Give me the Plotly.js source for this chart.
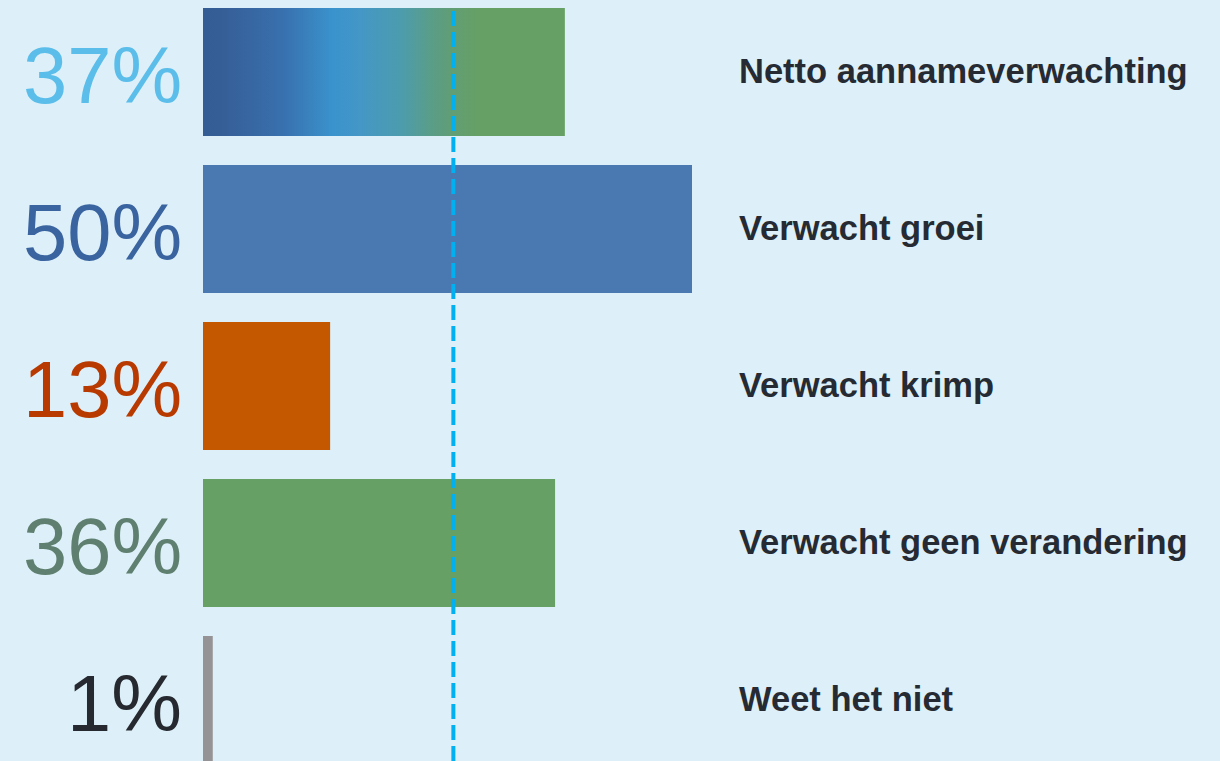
<!DOCTYPE html>
<html>
<head>
<meta charset="utf-8">
<script src="https://cdn.plot.ly/plotly-3.0.1.min.js"></script>
<style>
html,body{margin:0;padding:0;background:#ddf0f9;overflow:hidden;}
#chart{width:1220px;height:761px;}
</style>
</head>
<body>
<div id="chart"></div>
<script>
// Data
const categories = ["Netto aannameverwachting", "Verwacht groei", "Verwacht krimp", "Verwacht geen verandering", "Weet het niet"];
const values = [37, 50, 13, 36, 1];
const valueLabels = ["37%", "50%", "13%", "36%", "1%"];
const referenceLine = 25.6;

// Styles
const barColors = ["#3a8fc8", "#4a78b0", "#c45800", "#67a064", "#969396"];
const labelColors = ["#5bbde9", "#3a64a0", "#b83a00", "#5f8070", "#26292f"];
const FONT = "Liberation Sans, Arial, Helvetica, sans-serif";

const trace = {
  type: "bar",
  orientation: "h",
  y: categories,
  x: values,
  width: 0.815,
  marker: {color: barColors, line: {width: 0}},
  hoverinfo: "none"
};

const annotations = [];
categories.forEach((c, i) => {
  annotations.push({
    x: -1.9, y: c, xref: "x", yref: "y",
    text: valueLabels[i], showarrow: false,
    xanchor: "right", yanchor: "middle", yshift: -3,
    font: {family: FONT, size: 79.5, color: labelColors[i]}
  });
  annotations.push({
    x: 54.6, y: c, xref: "x", yref: "y",
    text: "<b>" + c + "</b>", showarrow: false,
    xanchor: "left", yanchor: "middle", yshift: 1,
    font: {family: FONT, size: 34.5, color: "#262b33"}
  });
});

const layout = {
  width: 1220, height: 761,
  margin: {l: 0, r: 0, t: 0, b: 0, pad: 0},
  paper_bgcolor: "#ddf0f9",
  plot_bgcolor: "#ddf0f9",
  showlegend: false,
  xaxis: {range: [-20.757, 103.988], visible: false, showgrid: false, zeroline: false, fixedrange: true},
  yaxis: {type: "category", categoryorder: "array", categoryarray: categories,
          range: [4.3885, -0.4586], visible: false, showgrid: false, zeroline: false, fixedrange: true},
  annotations: annotations,
  shapes: [{
    type: "line", xref: "x", yref: "paper",
    x0: referenceLine, x1: referenceLine, y0: 0, y1: 0.991,
    line: {color: "#00b0f0", width: 4, dash: "15px,6px"},
    layer: "above"
  }]
};

Plotly.newPlot("chart", [trace], layout, {staticPlot: true, displayModeBar: false}).then(gd => {
  const svg = gd.querySelector("svg.main-svg");
  let defs = svg.querySelector("defs");
  const ns = "http://www.w3.org/2000/svg";
  if (!defs) { defs = document.createElementNS(ns, "defs"); svg.insertBefore(defs, svg.firstChild); }
  const grad = document.createElementNS(ns, "linearGradient");
  grad.setAttribute("id", "nettoGrad");
  grad.setAttribute("x1", "0"); grad.setAttribute("x2", "1");
  grad.setAttribute("y1", "0"); grad.setAttribute("y2", "0");
  [[0, "#355d95"], [0.05, "#365e96"], [0.22, "#3870ae"], [0.36, "#3a93cd"], [0.435, "#4497c6"],
   [0.545, "#4c9cae"], [0.63, "#5a9d88"], [0.69, "#619e74"], [0.77, "#67a064"], [1, "#67a064"]].forEach(s => {
    const st = document.createElementNS(ns, "stop");
    st.setAttribute("offset", s[0]);
    st.setAttribute("stop-color", s[1]);
    grad.appendChild(st);
  });
  defs.appendChild(grad);
  const paths = gd.querySelectorAll(".barlayer .point path");
  if (paths.length) paths[0].style.fill = "url(#nettoGrad)";
});
</script>
</body>
</html>
